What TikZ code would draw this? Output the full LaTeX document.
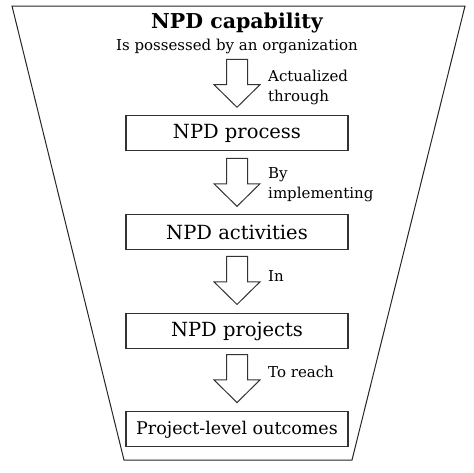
\documentclass[tikz,border=0pt]{standalone}
\usepackage{fontspec}
\setmainfont{DejaVu Serif}
\usetikzlibrary{shapes.arrows}
\usetikzlibrary{positioning}
\tikzset{
    stage/.style = {rectangle, draw=black!80, line width=1.1pt, minimum width=222pt, minimum height=35pt, inner sep=0pt, font=\fontsize{19.5}{22}\selectfont},
    downarrow/.style = {single arrow, draw=black!80, line width=1pt, inner xsep=0pt, inner ysep=10pt, minimum height=48pt, single arrow head extend=12.5pt, single arrow tip angle=91, rotate=-90},
    note/.style = {align=left, inner sep=0pt, font=\fontsize{15}{20}\selectfont},
    funnel/.style = {draw=black!85, line width=1pt, line join=miter}
}
\begin{document}
\begin{tikzpicture}[x=1pt, y=-1pt]
  \useasboundingbox (0,0) rectangle (474,472);
  % outer funnel
  \draw[funnel] (12,6) -- (465,6) -- (352,460) -- (124,460) -- cycle;

  \node[font=\bfseries\fontsize{20.5}{24}\selectfont] (cap) at (237,23) {NPD capability};
  \node[font=\fontsize{15}{17}\selectfont] (possess) at (237,46) {Is possessed by an organization};

  \node[stage] (process) at (237,133) {NPD process};
  \node[stage, below=63pt of process] (activities) {NPD activities};
  \node[stage, below=63pt of activities] (projects) {NPD projects};
  \node[stage, below=62pt of projects, font=\fontsize{17.5}{20}\selectfont] (outcomes) {Project-level outcomes};

  % arrows between stages
  \node[downarrow, above=6pt of process, anchor=tip, xshift=-1pt] (a1) {};
  \node[downarrow, above=6pt of activities, anchor=tip, xshift=-1pt] (a2) {};
  \node[downarrow, above=7pt of projects, anchor=tip, xshift=-1pt] (a3) {};
  \node[downarrow, above=7pt of outcomes, anchor=tip, xshift=-1pt] (a4) {};

  \node[note, anchor=west] (l1) at ([xshift=31pt, yshift=-9pt]a1.center) {Actualized\\through};
  \node[note, anchor=west] (l2) at ([xshift=31pt, yshift=-8pt]a2.center) {By\\implementing};
  \node[note, anchor=west] (l3) at ([xshift=31pt, yshift=-1pt]a3.center) {In};
  \node[note, anchor=west] (l4) at ([xshift=31pt, yshift=1pt]a4.center) {To reach};
\end{tikzpicture}
\end{document}
